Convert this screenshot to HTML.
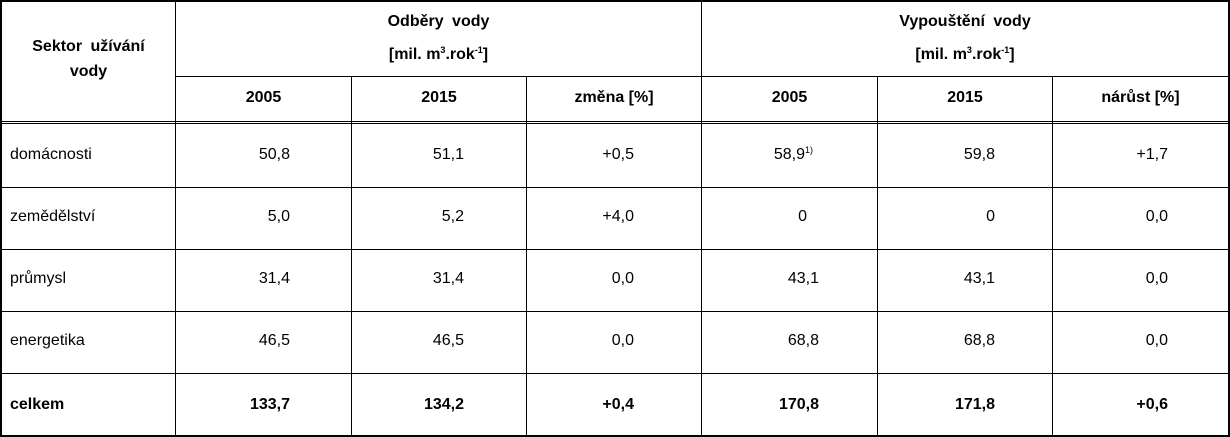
<!DOCTYPE html>
<html><head><meta charset="utf-8"><style>
body{margin:0;width:1230px;height:437px;background:#fff;overflow:hidden;font-family:"Liberation Sans",Arial,sans-serif;font-size:16px;color:#000}
.l{position:absolute;background:#000}
.t{position:absolute;line-height:18px;white-space:nowrap}
.c{text-align:center}
.r{text-align:right}
b{font-weight:bold}
sup{font-size:9px;vertical-align:6px;line-height:0;font-weight:normal}
b sup{font-weight:bold}
.ws{word-spacing:4px}
</style></head><body>
<div style="position:absolute;left:0;top:0;width:1230px;height:437px">
<div class="l" style="left:0;top:0;width:1230px;height:2px"></div>
<div class="l" style="left:0;top:435px;width:1230px;height:2px"></div>
<div class="l" style="left:0;top:0;width:2px;height:437px"></div>
<div class="l" style="left:1228px;top:0;width:2px;height:437px"></div>
<div class="l" style="left:175px;top:0;width:1px;height:437px"></div>
<div class="l" style="left:701px;top:0;width:1px;height:437px"></div>
<div class="l" style="left:351px;top:77px;width:1px;height:360px"></div>
<div class="l" style="left:526px;top:77px;width:1px;height:360px"></div>
<div class="l" style="left:877px;top:77px;width:1px;height:360px"></div>
<div class="l" style="left:1052px;top:77px;width:1px;height:360px"></div>
<div class="l" style="left:175px;top:76px;width:1054px;height:1px"></div>
<div class="l" style="left:0;top:121px;width:1230px;height:1px"></div>
<div class="l" style="left:0;top:123px;width:1230px;height:1px"></div>
<div class="l" style="left:0;top:187px;width:1230px;height:1px"></div>
<div class="l" style="left:0;top:249px;width:1230px;height:1px"></div>
<div class="l" style="left:0;top:311px;width:1230px;height:1px"></div>
<div class="l" style="left:0;top:373px;width:1230px;height:1px"></div>

<div class="t c ws" style="left:2px;width:173px;top:38px"><b>Sektor užívání</b></div>
<div class="t c" style="left:2px;width:173px;top:63px"><b>vody</b></div>
<div class="t c ws" style="left:176px;width:525px;top:13px"><b>Odběry vody</b></div>
<div class="t c" style="left:176px;width:525px;top:46px"><b>[mil. m<sup>3</sup>.rok<sup>-1</sup>]</b></div>
<div class="t c ws" style="left:702px;width:526px;top:13px"><b>Vypouštění vody</b></div>
<div class="t c" style="left:702px;width:526px;top:46px"><b>[mil. m<sup>3</sup>.rok<sup>-1</sup>]</b></div>
<div class="t c" style="left:176px;width:175px;top:89px"><b>2005</b></div>
<div class="t c" style="left:352px;width:174px;top:89px"><b>2015</b></div>
<div class="t c" style="left:527px;width:174px;top:89px"><b>změna [%]</b></div>
<div class="t c" style="left:702px;width:175px;top:89px"><b>2005</b></div>
<div class="t c" style="left:878px;width:174px;top:89px"><b>2015</b></div>
<div class="t c" style="left:1053px;width:175px;top:89px"><b>nárůst [%]</b></div>

<div>
<div class="t" style="left:10px;top:146px">domácnosti</div>
<div class="t r" style="left:176px;width:114px;top:146px">50,8</div>
<div class="t r" style="left:352px;width:112px;top:146px">51,1</div>
<div class="t r" style="left:527px;width:107px;top:146px">+0,5</div>
<div class="t r" style="left:702px;width:111px;top:146px">58,9<sup>1)</sup></div>
<div class="t r" style="left:878px;width:117px;top:146px">59,8</div>
<div class="t r" style="left:1053px;width:115px;top:146px">+1,7</div>
</div>
<div>
<div class="t" style="left:10px;top:208px">zemědělství</div>
<div class="t r" style="left:176px;width:114px;top:208px">5,0</div>
<div class="t r" style="left:352px;width:112px;top:208px">5,2</div>
<div class="t r" style="left:527px;width:107px;top:208px">+4,0</div>
<div class="t r" style="left:702px;width:105px;top:208px">0</div>
<div class="t r" style="left:878px;width:117px;top:208px">0</div>
<div class="t r" style="left:1053px;width:115px;top:208px">0,0</div>
</div>
<div>
<div class="t" style="left:10px;top:270px">průmysl</div>
<div class="t r" style="left:176px;width:114px;top:270px">31,4</div>
<div class="t r" style="left:352px;width:112px;top:270px">31,4</div>
<div class="t r" style="left:527px;width:107px;top:270px">0,0</div>
<div class="t r" style="left:702px;width:117px;top:270px">43,1</div>
<div class="t r" style="left:878px;width:117px;top:270px">43,1</div>
<div class="t r" style="left:1053px;width:115px;top:270px">0,0</div>
</div>
<div>
<div class="t" style="left:10px;top:332px">energetika</div>
<div class="t r" style="left:176px;width:114px;top:332px">46,5</div>
<div class="t r" style="left:352px;width:112px;top:332px">46,5</div>
<div class="t r" style="left:527px;width:107px;top:332px">0,0</div>
<div class="t r" style="left:702px;width:117px;top:332px">68,8</div>
<div class="t r" style="left:878px;width:117px;top:332px">68,8</div>
<div class="t r" style="left:1053px;width:115px;top:332px">0,0</div>
</div>
<div style="font-weight:bold">
<div class="t" style="left:10px;top:396px">celkem</div>
<div class="t r" style="left:176px;width:114px;top:396px">133,7</div>
<div class="t r" style="left:352px;width:112px;top:396px">134,2</div>
<div class="t r" style="left:527px;width:107px;top:396px">+0,4</div>
<div class="t r" style="left:702px;width:117px;top:396px">170,8</div>
<div class="t r" style="left:878px;width:117px;top:396px">171,8</div>
<div class="t r" style="left:1053px;width:115px;top:396px">+0,6</div>
</div>
</div>
</body></html>
